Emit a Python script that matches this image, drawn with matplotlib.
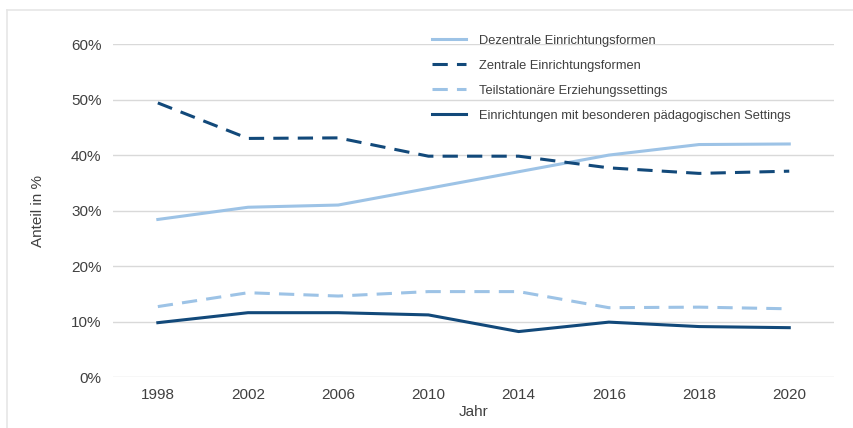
import numpy as np
import matplotlib
matplotlib.use('Agg')
import matplotlib.pyplot as plt
from matplotlib.lines import Line2D
from matplotlib.ticker import PercentFormatter

plt.rcParams['font.family'] = ['Liberation Sans', 'DejaVu Sans']

# Daten
jahre = ['1998', '2002', '2006', '2010', '2014', '2016', '2018', '2020']
dezentral = [28.4, 30.6, 31.0, 34.0, 37.0, 40.0, 41.9, 42.0]
zentral = [49.4, 43.0, 43.1, 39.8, 39.8, 37.7, 36.7, 37.1]
teilstationaer = [12.7, 15.2, 14.6, 15.4, 15.4, 12.5, 12.6, 12.3]
besondere = [9.8, 11.6, 11.6, 11.2, 8.2, 9.9, 9.1, 8.9]

hell = '#9dc3e6'
dunkel = '#12497a'
text_col = '#404040'

fig = plt.figure(figsize=(8.54, 4.28), dpi=100)
ax = fig.add_axes([0.132, 0.119, 0.845, 0.778])

x = np.arange(len(jahre))
strich = (0, (5, 3))
ax.plot(x, dezentral, color=hell, lw=2.2, label='Dezentrale Einrichtungsformen')
ax.plot(x, zentral, color=dunkel, lw=2.2, ls=strich, label='Zentrale Einrichtungsformen')
ax.plot(x, teilstationaer, color=hell, lw=2.2, ls=strich, label='Teilstationäre Erziehungssettings')
ax.plot(x, besondere, color=dunkel, lw=2.2, label='Einrichtungen mit besonderen pädagogischen Settings')

ax.set_xlim(-0.5, len(jahre) - 0.5)
ax.set_ylim(0, 60)
ax.set_yticks(np.arange(0, 61, 10))
ax.yaxis.set_major_formatter(PercentFormatter(decimals=0))
ax.set_xticks(x)
ax.set_xticklabels(jahre)
ax.grid(axis='y', color='#d9d9d9', lw=1)
ax.set_axisbelow(True)
for s in ax.spines.values():
    s.set_visible(False)
ax.tick_params(length=0, labelsize=11, colors=text_col, pad=8)
ax.set_xlabel('Jahr', fontsize=11, color=text_col, labelpad=2)
ax.set_ylabel('Anteil in %', fontsize=11, color=text_col, labelpad=19)

leg = ax.legend(loc='upper left', bbox_to_anchor=(420 / 854, 1 - 23 / 428), bbox_transform=fig.transFigure,
                frameon=False, fontsize=9.3, labelspacing=1.0, handlelength=2.7, handletextpad=0.95)
for t in leg.get_texts():
    t.set_color(text_col)

# Rahmen
fig.add_artist(Line2D([7 / 854, 1], [1 - 10 / 428, 1 - 10 / 428], color='#e6e6e6', lw=1.2))
fig.add_artist(Line2D([7 / 854, 7 / 854], [0, 1 - 10 / 428], color='#e6e6e6', lw=1.2))

fig.savefig('out.png', dpi=100)
